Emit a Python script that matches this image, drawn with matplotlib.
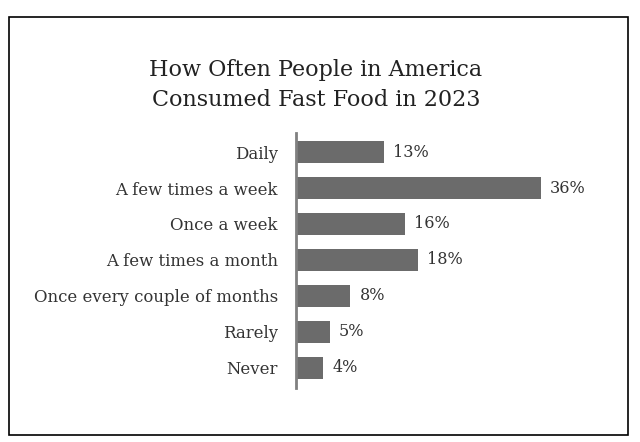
import matplotlib.pyplot as plt
from matplotlib.patches import Rectangle

# data
categories = ["Daily", "A few times a week", "Once a week", "A few times a month",
              "Once every couple of months", "Rarely", "Never"]
values = [13, 36, 16, 18, 8, 5, 4]
labels = ["13%", "36%", "16%", "18%", "8%", "5%", "4%"]

plt.rcParams['font.family'] = ['DejaVu Serif']

W, H = 640, 442
fig = plt.figure(figsize=(W / 100, H / 100), dpi=100)

# outer frame
fig.patches.append(Rectangle((9 / W, 1 - 435 / H), (628 - 9) / W, (435 - 17) / H,
                             transform=fig.transFigure, fill=False,
                             edgecolor='black', linewidth=1.2))

fig.text(316 / W, 1 - 70 / H, "How Often People in America", ha='center', va='center',
         fontsize=16, color='#222222')
fig.text(316 / W, 1 - 100 / H, "Consumed Fast Food in 2023", ha='center', va='center',
         fontsize=16, color='#222222')

ax_l, ax_r, ax_t, ax_b = 296, 600, 133, 388
ax = fig.add_axes([ax_l / W, 1 - ax_b / H, (ax_r - ax_l) / W, (ax_b - ax_t) / H])

pos = list(range(len(categories)))
ax.barh(pos, values, height=0.61, color='#6b6b6b')
ax.set_xlim(0, (ax_r - ax_l) / 6.8)
ax.set_ylim(6.556, -0.528)

for p, v, lab in zip(pos, values, labels):
    ax.annotate(lab, (v, p), xytext=(9, 0), textcoords='offset pixels',
                va='center', ha='left', fontsize=11.5, color='#333333')

ax.set_yticks(pos)
ax.set_yticklabels(categories, fontsize=11.9, color='#333333')
ax.tick_params(axis='y', length=0, pad=13)
ax.set_xticks([])
for s in ['top', 'right', 'bottom']:
    ax.spines[s].set_visible(False)
ax.spines['left'].set_color('#808080')
ax.spines['left'].set_linewidth(2)

fig.savefig("out.png", dpi=100)
